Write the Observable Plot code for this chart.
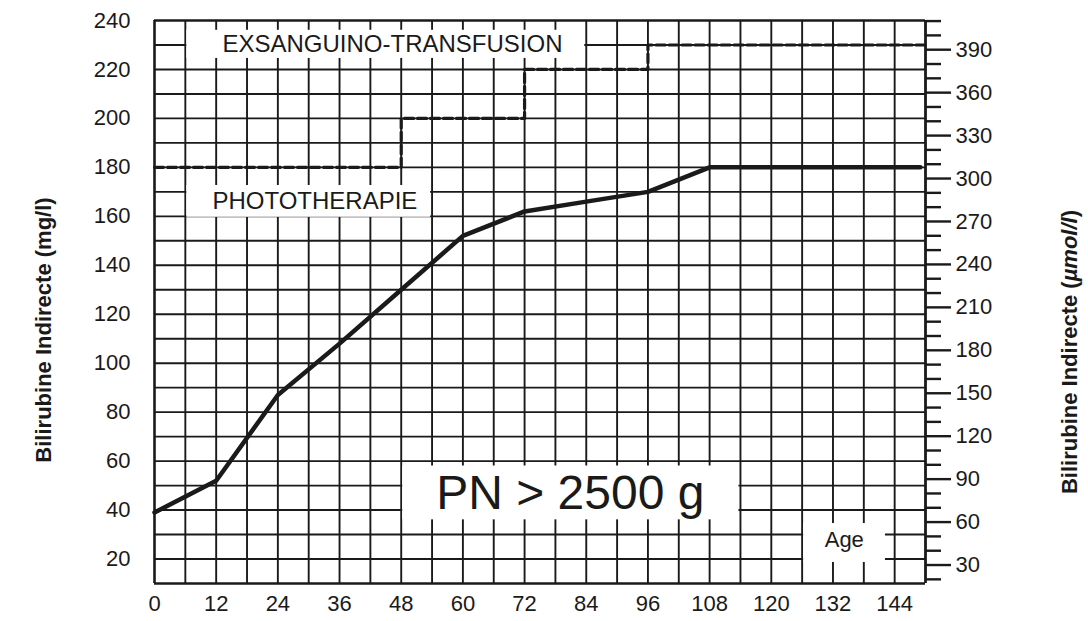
<!DOCTYPE html>
<html>
<head>
<meta charset="utf-8">
<script src="https://cdn.jsdelivr.net/npm/d3@7"></script>
<script src="https://cdn.jsdelivr.net/npm/@observablehq/plot@0.6"></script>
<style>
  html, body { margin: 0; padding: 0; background: #fff; }
  #chart svg { display: block; }
</style>
</head>
<body>
<div id="chart"></div>
<script>
// ---- Data ----
// Phototherapy threshold curve (mg/l) by age (hours)
const phototherapyHours  = [0, 12, 24, 36, 48, 60, 72, 84, 96, 108, 149];
const phototherapyLevels = [39, 52, 87, 108, 130, 152, 162, 166, 170, 180, 180];

// Exchange-transfusion threshold (dashed step line)
const exchangeHours  = [0, 48, 72, 96, 150];
const exchangeLevels = [180, 200, 220, 230, 230];

// Tick labels
const ageTicks  = [0, 12, 24, 36, 48, 60, 72, 84, 96, 108, 120, 132, 144];
const mgTicks   = [20, 40, 60, 80, 100, 120, 140, 160, 180, 200, 220, 240];
const umolMajor = [30, 60, 90, 120, 150, 180, 210, 240, 270, 300, 330, 360, 390];
const umolMinor = [20, 40, 50, 70, 80, 100, 110, 130, 140, 160, 170, 190, 200, 220, 230, 250, 260,
                   280, 290, 310, 320, 340, 350, 370, 380, 400, 410];
const UMOL_PER_MG = 1.71;

// Grid (every 6 h, every 10 mg/l)
const gridHours  = [6, 12, 18, 24, 30, 36, 42, 48, 54, 60, 66, 72, 78, 84, 90, 96, 102, 108, 114, 120, 126, 132, 138, 144];
const gridLevels = [20, 30, 40, 50, 60, 70, 80, 90, 100, 110, 120, 130, 140, 150, 160, 170, 180, 190, 200, 210, 220, 230];

// Annotation labels
const labelTexts  = ["EXSANGUINO-TRANSFUSION", "PHOTOTHERAPIE", "PN > 2500 g", "Age"];
const labelHours  = [46.3, 31.2, 80.9, 134.2];
const labelLevels = [230.2, 166, 46.6, 27.8];
const labelSizes  = [24, 24, 48, 22];

// White label boxes that interrupt the grid
const boxH1 = [6, 6, 48, 126];
const boxH2 = [84, 54, 114, 142.5];
const boxV1 = [224.5, 159.6, 36, 18.6];
const boxV2 = [236, 172.6, 58, 34.5];

// ---- Build tables ----
const photo = phototherapyHours.map((h, i) => ({h, v: phototherapyLevels[i]}));
const exch = exchangeHours.map((h, i) => ({h, v: exchangeLevels[i]}));
const labels = labelTexts.map((t, i) => ({t, h: labelHours[i], v: labelLevels[i], s: labelSizes[i]}));
const boxes = boxH1.map((x1, i) => ({x1, x2: boxH2[i], y1: boxV1[i], y2: boxV2[i]}));

const ink = "#1a1a1a";
const font = "'Liberation Sans', Arial, Helvetica, sans-serif";

const chart = Plot.plot({
  width: 1088,
  height: 621,
  marginLeft: 154,
  marginRight: 163,
  marginTop: 20,
  marginBottom: 38,
  x: {domain: [0, 150], label: null},
  y: {domain: [10, 240], label: null},
  style: {fontFamily: font, fontSize: "22px", color: ink, background: "#fff", overflow: "visible"},
  marks: [
    Plot.ruleX(gridHours, {y1: 10, y2: 240, stroke: ink, strokeWidth: 1.9}),
    Plot.ruleY(gridLevels, {x1: 0, x2: 150, stroke: ink, strokeWidth: 1.9}),
    Plot.rect(boxes, {x1: "x1", x2: "x2", y1: "y1", y2: "y2", fill: "#fff", insetLeft: 1.5, insetRight: 1.5}),
    Plot.ruleX([0], {y1: 10, y2: 240, stroke: ink, strokeWidth: 2.6}),
    Plot.ruleY([10, 240], {x1: 0, x2: 150, stroke: ink, strokeWidth: 2.6}),
    Plot.ruleX([150], {y1: 10, y2: 240, stroke: ink, strokeWidth: 2.8}),
    Plot.line(exch, {x: "h", y: "v", curve: "step-after", stroke: ink, strokeWidth: 3.2, strokeDasharray: "9,4"}),
    Plot.line(photo, {x: "h", y: "v", stroke: ink, strokeWidth: 4.5, strokeLinejoin: "round", strokeLinecap: "round"}),
    Plot.text(labels, {x: "h", y: "v", text: "t", fontSize: "s", fill: ink, textAnchor: "middle", lineAnchor: "middle"}),
    Plot.axisX(ageTicks, {anchor: "bottom", tickSize: 0, tickPadding: 12, fontSize: 22, fill: ink, label: null}),
    Plot.axisY(mgTicks, {anchor: "left", tickSize: 0, tickPadding: 24, fontSize: 22, fill: ink, label: null}),
    Plot.axisY(umolMinor.map(u => u / UMOL_PER_MG), {anchor: "right", tickSize: 15, tickFormat: () => "", stroke: ink, strokeWidth: 2.4, label: null}),
    Plot.axisY(umolMajor.map(u => u / UMOL_PER_MG), {anchor: "right", tickSize: 25, tickPadding: 5, fontSize: 22, fill: ink, stroke: ink, strokeWidth: 2.4,
      tickFormat: d => String(Math.round(d * UMOL_PER_MG)), label: null})
  ]
});

const svg = d3.select(chart);
svg.append("text")
  .attr("transform", "translate(45,330) rotate(-90)")
  .attr("text-anchor", "middle")
  .attr("dominant-baseline", "middle")
  .attr("font-family", font).attr("font-size", 22).attr("font-weight", "bold").attr("fill", ink)
  .text("Bilirubine Indirecte (mg/l)");
const t2 = svg.append("text")
  .attr("transform", "translate(1071,352) rotate(-90)")
  .attr("text-anchor", "middle")
  .attr("dominant-baseline", "middle")
  .attr("font-family", font).attr("font-size", 22).attr("font-weight", "bold").attr("fill", ink);
t2.append("tspan").text("Bilirubine Indirecte (");
t2.append("tspan").attr("font-style", "italic").text("µmol/l");
t2.append("tspan").text(")");

document.getElementById("chart").appendChild(chart);
</script>
</body>
</html>
